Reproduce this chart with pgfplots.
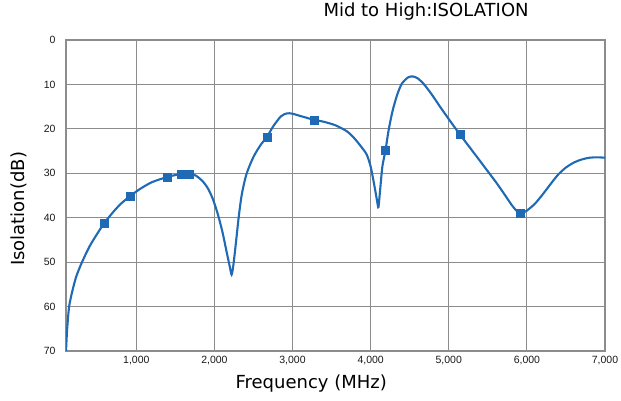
\documentclass[border=0pt]{standalone}
\usepackage{pgfplots}
\pgfplotsset{compat=1.18}
\usepackage{fontspec}
\setmainfont{DejaVu Sans}
\newfontfamily\tickfont{Liberation Sans}
\definecolor{curveblue}{HTML}{1F6AB4}
\definecolor{gridgray}{HTML}{8C8C8C}
\begin{document}
\begin{tikzpicture}[x=1pt,y=1pt]
\path[use as bounding box] (0,0) rectangle (621,400);
\begin{axis}[
  at={(66pt,49pt)}, anchor=south west,
  scale only axis, width=539pt, height=311pt,
  xmin=100, xmax=7000, ymin=0, ymax=70,
  y dir=reverse,
  xtick={1000,2000,3000,4000,5000,6000,7000},
  ytick={0,10,20,30,40,50,60,70},
  grid=major,
  major grid style={gridgray, line width=1.1pt},
  axis line style={gridgray, line width=1.1pt},
  major tick length=0pt,
  /pgf/number format/assume math mode=true,
  /pgf/number format/1000 sep={,},
  tick label style={font=\tickfont\fontsize{10.5}{11}\selectfont, text=black!90},
  xticklabel style={yshift=-2pt},
  yticklabel style={xshift=-7pt},
  xlabel={Frequency (MHz)},
  ylabel={Isolation(dB)},
  label style={font=\fontsize{18}{19}\selectfont},
  xlabel style={at={(axis description cs:0.455,-0.106)}, anchor=center},
  ylabel style={at={(axis description cs:-0.0872,0.457)}, anchor=center},
  title={Mid to High:ISOLATION},
  title style={at={(axis description cs:0.668,1.0547)}, anchor=base, font=\fontsize{18}{19}\selectfont},
]
\addplot[curveblue, line width=2.1pt, smooth, tension=0.45] coordinates {
(100,70) (115,65) (140,60) (180,56.6) (230,53.3) (300,50.2) (400,46.5)
(500,43.6) (590,41.2)
(700,38.8) (800,36.9) (923,35.1) (1050,33.5) (1200,32.0) (1400,30.8)
(1500,30.4) (1580,30.2) (1680,30.2) (1760,30.5) (1850,31.8) (1920,33.5)
(1980,35.8) (2040,39) (2100,43) (2160,48) (2200,51.3) (2220,52.8)
(2240,51) (2270,46.5) (2310,40) (2350,34.8) (2410,30.2) (2500,26.3)
(2600,23.4) (2670,21.9) (2750,19.5) (2850,17.2) (2930,16.5) (3000,16.6)
(3100,17.1) (3200,17.6) (3280,18.0) (3400,18.4) (3550,19.2) (3700,20.6)
(3800,22.3) (3900,24.5) (3950,25.8) (4000,28.5) (4050,33) (4085,36.5)
(4100,37.6) (4120,34) (4150,28.5) (4190,24.8) (4230,20.3) (4280,16)
(4340,12.3) (4400,9.8) (4480,8.4) (4540,8.2) (4600,8.6) (4680,9.9)
(4780,12.2) (4880,14.8) (5000,17.8) (5140,21.2) (5300,24.9)
(5450,28.4) (5600,31.9) (5700,34.4) (5800,37.0) (5860,38.3)
(5910,39) (5960,38.8) (6000,38.4) (6100,36.9) (6200,34.8) (6300,32.5) (6400,30.3)
(6500,28.7) (6600,27.6) (6700,26.9) (6800,26.5) (6900,26.4) (7000,26.5)
};
\addplot[only marks, mark=square*, mark size=4pt, mark options={fill=curveblue, draw=curveblue}] coordinates {
(590,41.2) (923,35.1) (1400,30.8) (1580,30.2) (1680,30.2) (2670,21.9)
(3280,18.0) (4190,24.8) (5140,21.2) (5910,39)
};
\end{axis}
\end{tikzpicture}
\end{document}
